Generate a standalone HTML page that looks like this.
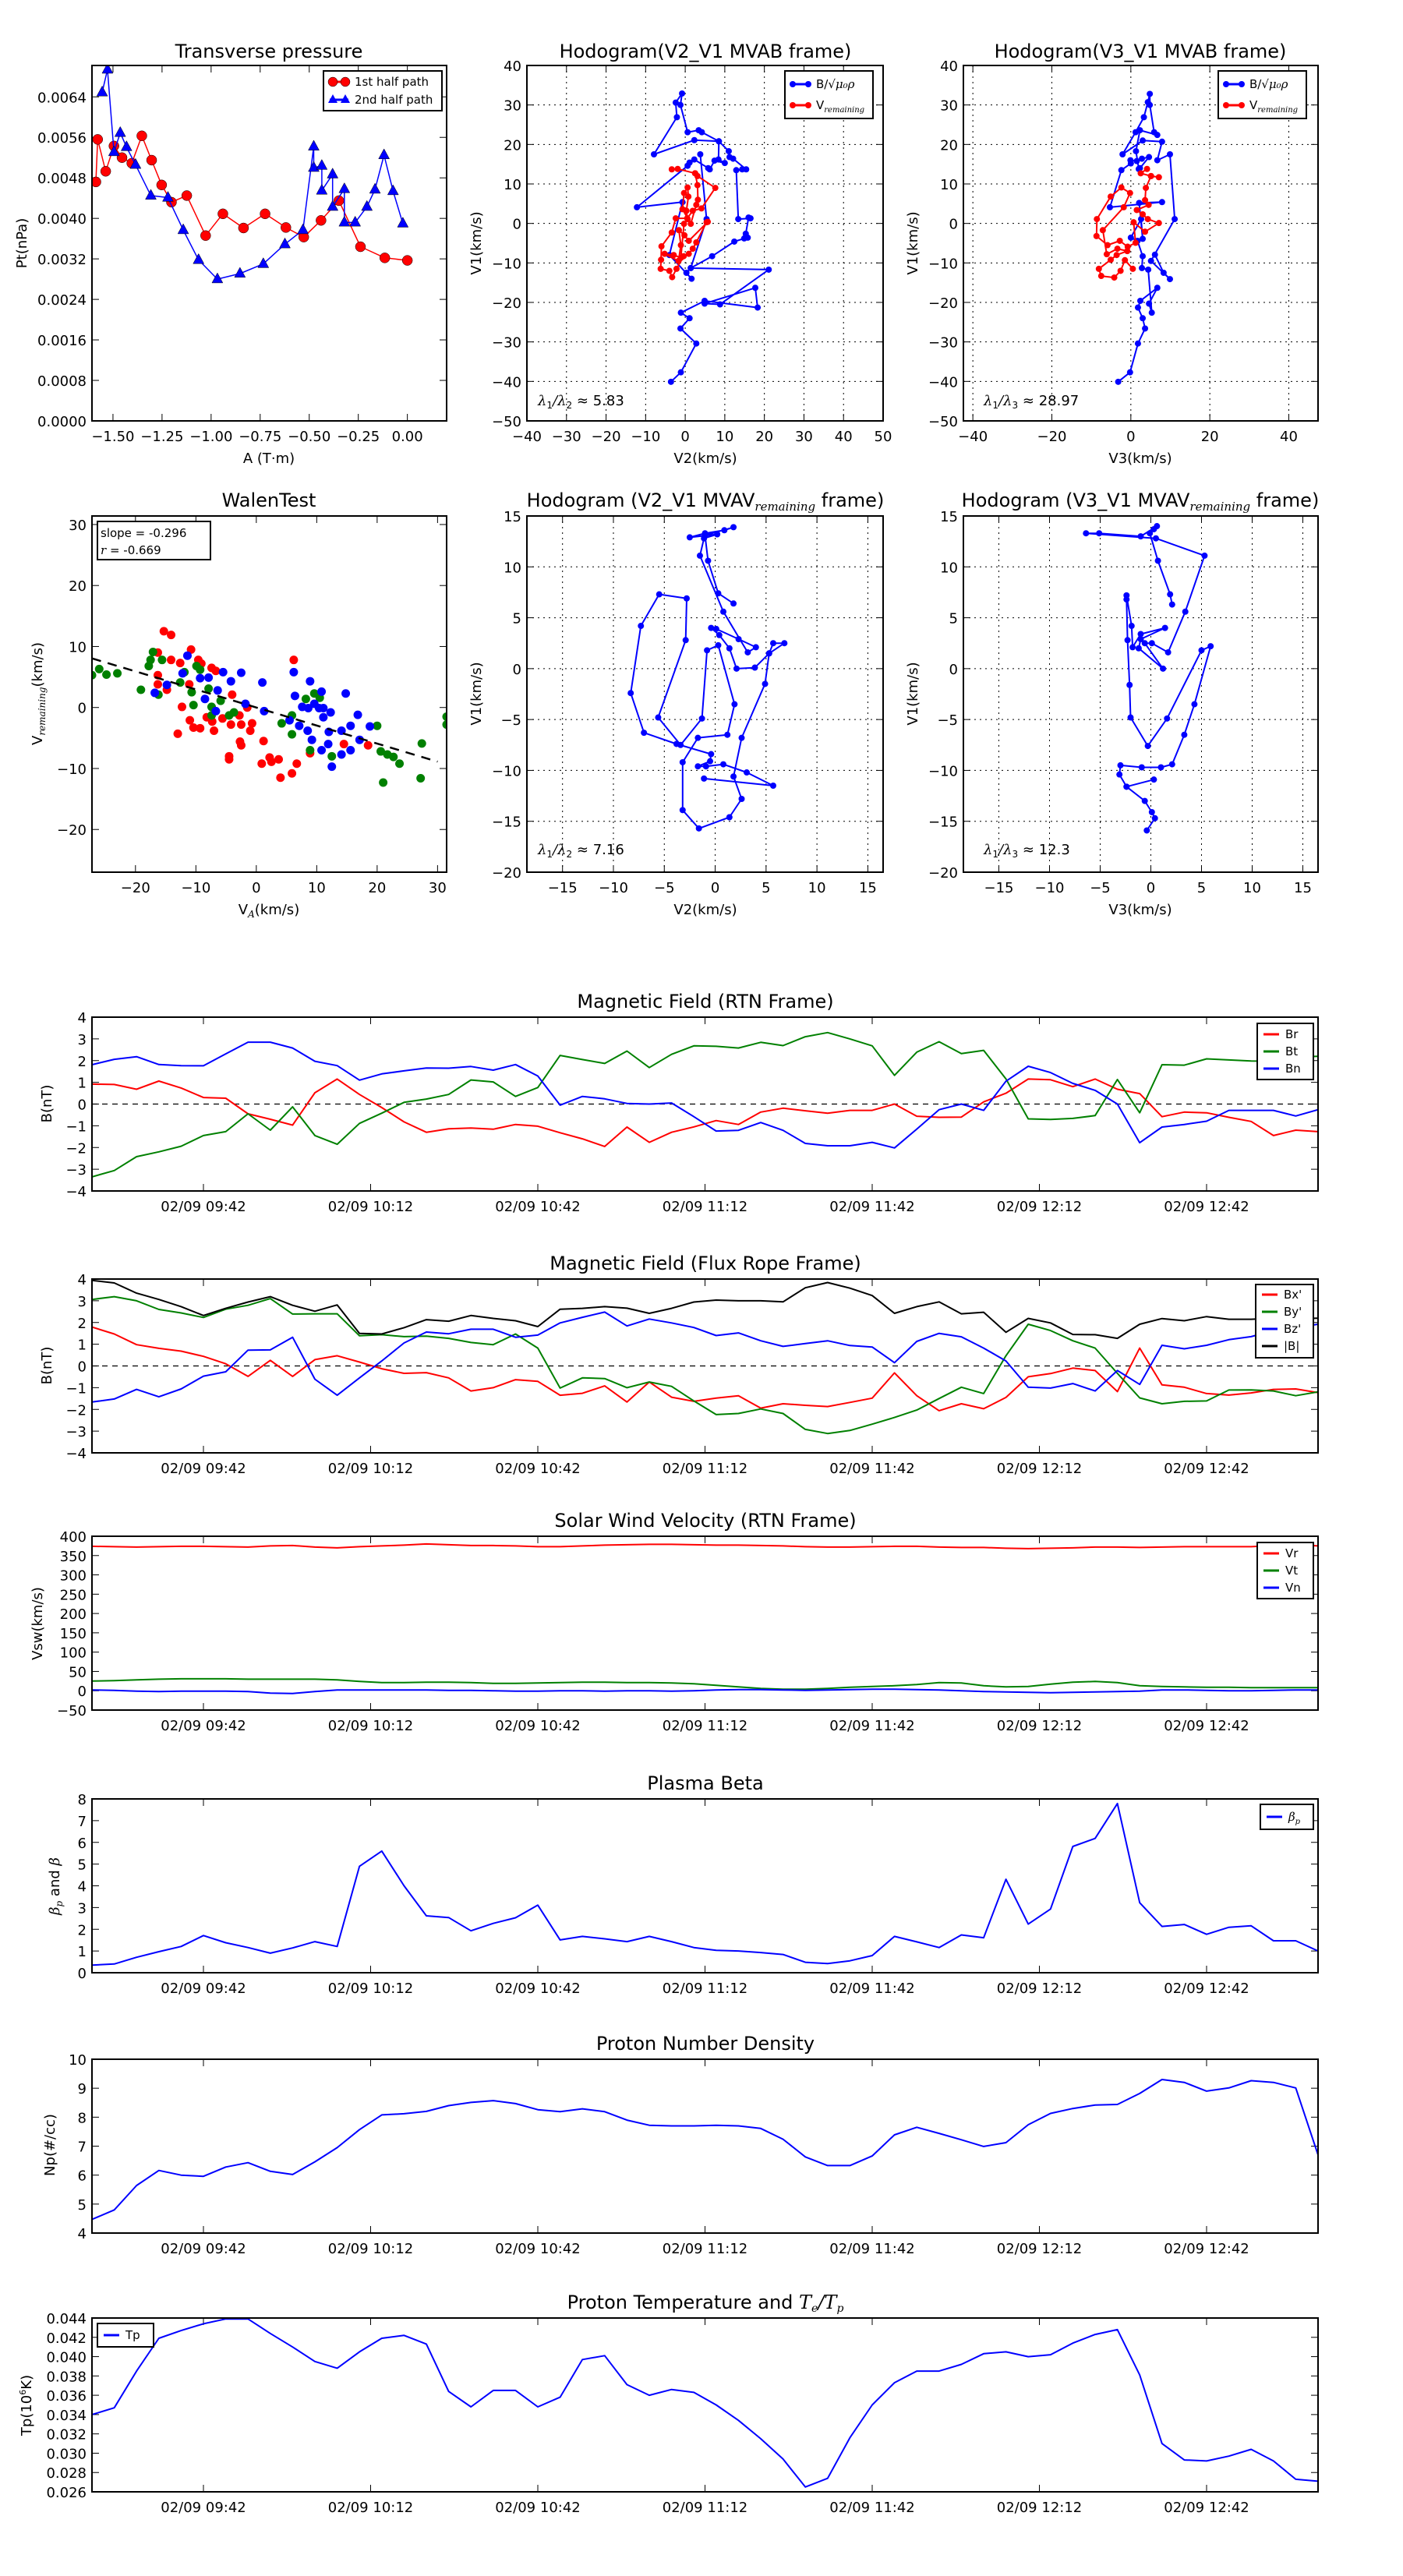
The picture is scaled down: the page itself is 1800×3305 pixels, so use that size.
<!DOCTYPE html>
<html><head><meta charset="utf-8">
<style>
body{margin:0;background:#fff}
svg text{font-family:"DejaVu Sans","Liberation Sans",sans-serif;fill:#000}
.t{font-size:24px}.lb{font-size:18px}.tk{font-size:18px}.lg{font-size:15px}
.m{font-family:"DejaVu Serif","Liberation Serif",serif;font-style:italic}
</style></head>
<body>
<svg id="fig" width="1800" height="3300" xmlns="http://www.w3.org/2000/svg">
<rect x="0" y="0" width="1800" height="3300" fill="#fff"/>
<!-- row 1 titles/labels -->
<text class="t" x="345" y="74" text-anchor="middle">Transverse pressure</text>
<text class="t" x="905" y="74" text-anchor="middle">Hodogram(V2_V1 MVAB frame)</text>
<text class="t" x="1463" y="74" text-anchor="middle">Hodogram(V3_V1 MVAB frame)</text>
<text class="lb" x="345" y="594" text-anchor="middle">A (T·m)</text>
<text class="lb" x="905" y="594" text-anchor="middle">V2(km/s)</text>
<text class="lb" x="1463" y="594" text-anchor="middle">V3(km/s)</text>
<text class="lb" transform="translate(34,312) rotate(-90)" text-anchor="middle">Pt(nPa)</text>
<text class="lb" transform="translate(617,312) rotate(-90)" text-anchor="middle">V1(km/s)</text>
<text class="lb" transform="translate(1177,312) rotate(-90)" text-anchor="middle">V1(km/s)</text>
<text class="lb" x="690" y="520"><tspan class="m">λ</tspan><tspan font-size="12" dy="4">1</tspan><tspan dy="-4" class="m">/λ</tspan><tspan font-size="12" dy="4">2</tspan><tspan dy="-4"> ≈ 5.83</tspan></text>
<text class="lb" x="1262" y="520"><tspan class="m">λ</tspan><tspan font-size="12" dy="4">1</tspan><tspan dy="-4" class="m">/λ</tspan><tspan font-size="12" dy="4">3</tspan><tspan dy="-4"> ≈ 28.97</tspan></text>
<!-- row 2 -->
<text class="t" x="345" y="650" text-anchor="middle">WalenTest</text>
<text class="t" x="905" y="650" text-anchor="middle">Hodogram (V2_V1 MVAV<tspan class="m" font-size="15" dy="5">remaining</tspan><tspan dy="-5"> frame)</tspan></text>
<text class="t" x="1463" y="650" text-anchor="middle">Hodogram (V3_V1 MVAV<tspan class="m" font-size="15" dy="5">remaining</tspan><tspan dy="-5"> frame)</tspan></text>
<text class="lb" x="345" y="1173" text-anchor="middle">V<tspan class="m" font-size="12" dy="4">A</tspan><tspan dy="-4">(km/s)</tspan></text>
<text class="lb" x="905" y="1173" text-anchor="middle">V2(km/s)</text>
<text class="lb" x="1463" y="1173" text-anchor="middle">V3(km/s)</text>
<text class="lb" transform="translate(54,890) rotate(-90)" text-anchor="middle">V<tspan class="m" font-size="12" dy="4">remaining</tspan><tspan dy="-4">(km/s)</tspan></text>
<text class="lb" transform="translate(617,890) rotate(-90)" text-anchor="middle">V1(km/s)</text>
<text class="lb" transform="translate(1177,890) rotate(-90)" text-anchor="middle">V1(km/s)</text>
<text class="lb" x="690" y="1096"><tspan class="m">λ</tspan><tspan font-size="12" dy="4">1</tspan><tspan dy="-4" class="m">/λ</tspan><tspan font-size="12" dy="4">2</tspan><tspan dy="-4"> ≈ 7.16</tspan></text>
<text class="lb" x="1262" y="1096"><tspan class="m">λ</tspan><tspan font-size="12" dy="4">1</tspan><tspan dy="-4" class="m">/λ</tspan><tspan font-size="12" dy="4">3</tspan><tspan dy="-4"> ≈ 12.3</tspan></text>
<!-- time series titles -->
<text class="t" x="905" y="1293" text-anchor="middle">Magnetic Field (RTN Frame)</text>
<text class="t" x="905" y="1629" text-anchor="middle">Magnetic Field (Flux Rope Frame)</text>
<text class="t" x="905" y="1959" text-anchor="middle">Solar Wind Velocity (RTN Frame)</text>
<text class="t" x="905" y="2296" text-anchor="middle">Plasma Beta</text>
<text class="t" x="905" y="2630" text-anchor="middle">Proton Number Density</text>
<text class="t" x="905" y="2962" text-anchor="middle">Proton Temperature and <tspan class="m">T</tspan><tspan class="m" font-size="14" dy="4">e</tspan><tspan class="m" dy="-4">/T</tspan><tspan class="m" font-size="14" dy="4">p</tspan></text>
<text class="lb" transform="translate(66,1416) rotate(-90)" text-anchor="middle">B(nT)</text>
<text class="lb" transform="translate(66,1752) rotate(-90)" text-anchor="middle">B(nT)</text>
<text class="lb" transform="translate(54,2083) rotate(-90)" text-anchor="middle">Vsw(km/s)</text>
<text class="lb" transform="translate(76,2420) rotate(-90)" text-anchor="middle"><tspan class="m">β</tspan><tspan class="m" font-size="12" dy="4">p</tspan><tspan dy="-4"> and </tspan><tspan class="m">β</tspan></text>
<text class="lb" transform="translate(70,2752) rotate(-90)" text-anchor="middle">Np(#/cc)</text>
<text class="lb" transform="translate(40,3086) rotate(-90)" text-anchor="middle">Tp(10<tspan font-size="11" dy="-7">6</tspan><tspan dy="7">K)</tspan></text>
</svg>
<script>
// ---------- Transverse pressure data ----------
const ptRedA = [-1.587,-1.578,-1.537,-1.495,-1.454,-1.404,-1.353,-1.303,-1.252,-1.202,-1.124,-1.028,-0.94,-0.835,-0.725,-0.619,-0.528,-0.44,-0.349,-0.239,-0.115,0];
const ptRedP = [0.00472,0.00556,0.00493,0.00543,0.0052,0.00509,0.00563,0.00515,0.00466,0.00432,0.00445,0.00366,0.00409,0.00381,0.00409,0.00382,0.00363,0.00396,0.00435,0.00344,0.00322,0.00317];
const ptBlueA = [-1.555,-1.528,-1.495,-1.463,-1.431,-1.385,-1.307,-1.22,-1.142,-1.064,-0.968,-0.853,-0.734,-0.624,-0.532,-0.477,-0.477,-0.436,-0.436,-0.381,-0.381,-0.321,-0.321,-0.266,-0.206,-0.165,-0.119,-0.073,-0.023];
const ptBlueP = [0.00649,0.00694,0.00531,0.00569,0.00541,0.00506,0.00445,0.00441,0.00377,0.00318,0.0028,0.00291,0.0031,0.00349,0.00377,0.00542,0.005,0.00504,0.00455,0.00487,0.00423,0.00458,0.00392,0.00392,0.00423,0.00457,0.00525,0.00454,0.0039];
// ---------- Hodogram MVAB (V2) ----------
const h1BlueX = [-3.6,-1.1,2.8,-1.2,1.1,-1.1,4.9,18.3,17.7,4.9,8.8,21.1,1.4,0.3,1.6,-4,-0.7,-12.2,0.6,1.1,2.3,5.8,6.2,7.4,10,8.4,8.5,4.2,3.4,0.6,-1.2,-0.8,-2.4,-2.1,-7.9,2.3,8.5,11,11.2,12.1,15.4,14.4,12.9,13.4,16.5,16,15.3,15.8,14.9,12.4,6.8,1.4,5.4,3.8];
const h1BlueY = [-40.1,-37.7,-30.4,-26.6,-24,-22.6,-19.6,-21.3,-16.3,-20.3,-20.5,-11.7,-11.3,-12.5,-14,-8,5.4,4.1,14.6,15.4,16.2,14,13.7,15.9,15.3,16.2,20.8,23.1,23.6,23.1,30,32.9,30.6,26.9,17.5,21.1,20.8,18.3,16.8,16.4,13.7,13.7,13.5,1.1,1.3,1.5,-2.6,-3.6,-3.8,-4.6,-8.3,-11.3,1.1,17.5];
const h1RedX = [-3.4,-1.9,2.5,3.1,7.6,4.1,1.9,0.5,-2.4,-3.4,-6,-6.1,-6.2,-4,-3.3,-2.2,-0.4,0.9,1.9,2.8,5.4,5.7,0.9,-0.2,-1.6,-1.1,-1.7,-5.2,-2.9,-1.1,-0.3,0.6,0.3,0.8,0.6,-0.3,-0.7,1.4,2.8,3.2,3.1,2.5];
const h1RedY = [13.7,13.8,12.7,12,9,3.8,3.2,1.3,1.3,-2.3,-5.8,-9.2,-11.5,-12,-13.6,-11.5,-8.3,-7.7,-6.4,-4.8,0.3,0.4,-4.4,-3,-1.7,-5.5,-9.5,-7.7,-8,-8.7,-0.1,1.1,3.2,6.8,9.1,7.7,3.6,-0.1,4.7,6,9.7,12.7];
// ---------- Hodogram MVAB (V3) ----------
const h2BlueX = [-3.2,-0.2,1.8,3.6,3,1.8,2.4,6.7,4.6,5.3,4.4,2.8,3,1.7,0,2.6,3,2.1,7.9,-5.3,-2.4,0,-0.1,1.5,2.8,4.6,2.3,2,1.3,2.3,6.7,5.9,4.8,4.8,4.3,3.3,1.2,-2.1,3,7.9,6.7,9.9,11.1,5.1,9.9,8.3,6.1];
const h2BlueY = [-40.1,-37.7,-30.4,-26.6,-24,-21.3,-19.6,-16.3,-20.3,-22.6,-11.7,-11.3,-8.3,-4.4,-3.6,1.1,-3.9,5.2,5.4,4.1,13.5,15.2,16,15.8,16.4,16.8,14,13.8,18.3,23.6,22.4,23.1,30,32.8,30.7,26.9,23.1,17.5,21,20.7,16,17.5,1.1,-9.5,-14.1,-12.5,-7.9];
const h2RedX = [4.1,2.5,5.1,7.1,5.1,3.8,3.6,4.5,1.5,3,4.3,7.1,3.6,0.7,1.2,-0.8,-2.8,-5.9,-8.7,-8.6,-5.1,-2.4,-0.2,-1.8,-7.1,-6.1,-3.4,-0.9,-3.6,-5.1,-8.1,-7.5,-4.2,-2.6,-1.5,0.5];
const h2RedY = [13.8,12.7,12,11.7,12,9,5.9,4.7,3.4,2.3,1.1,0.1,-2.1,0.3,-4.9,-5.9,-4.4,-5.5,-3.2,1.1,6.8,9.1,7.7,4.1,-1.7,-7.8,-6.4,-7,-8,-9.2,-11.5,-13.3,-13.7,-12,-9.3,-11.5];
// ---------- Walen test ----------
const walenRedX = [-15.3,-14.1,-16.3,-10.8,-14.1,-12.6,-9.6,-9.1,-7.4,-6.7,-16.3,-16.3,-14.8,-11.1,-4,-12.3,-1.5,-11,-10.4,-9.3,-8.2,-7.3,-7,-5.6,-4.2,-2.8,-2.5,-1,-0.7,-13,-2.7,-2.5,-4.5,-4.5,1.2,0.9,2.2,2.5,3.7,4,5.9,6.7,6.2,8.9,18.5,14.5];
const walenRedY = [12.5,11.9,9,9.5,7.8,7.3,7.8,7.2,6.5,6,5.3,3.8,2.9,3.8,2.1,0.1,0,-2.1,-3.3,-3.4,-1.6,-2.3,-3.8,-1.8,-2.8,-1.3,-2.8,-3.8,-2.6,-4.3,-5.6,-6.2,-8,-8.5,-5.5,-9.2,-8.2,-8.9,-8.5,-11.5,-10.8,-9.2,7.8,-7.5,-6.2,-6];
const walenGreenX = [-27.2,-26,-24.8,-23,-19.1,-17.8,-17.5,-17.1,-15.6,-16.2,-11.9,-12.6,-10.7,-10.4,-9.9,-9.3,-7.9,-7.4,-5.9,-7.4,-4.5,-3.7,4.2,5.9,5.9,8.2,9.6,10.5,8.9,12.5,20,20.6,21.7,22.7,23.7,21,27.2,27.4,31.5,31.5];
const walenGreenY = [5.3,6.3,5.4,5.6,2.9,6.8,7.8,9.1,7.8,2.1,5.8,4.1,2.5,0.4,6.8,6.2,3.1,0.1,1.1,-1.3,-1.3,-0.8,-2.6,-4.4,-1.3,1.4,2.3,1.6,-7,-8,-3,-7.2,-7.7,-8.1,-9.2,-12.3,-11.6,-5.9,-1.5,-2.8];
const walenBlueX = [-11.4,-12.2,-9.3,-7.9,-5.5,-2.5,-16.8,-14.8,-6.4,-8.5,-6.7,-4.2,-1.8,1,1.3,6.2,8.9,6.4,10.8,14.8,7.6,8.6,9.6,11.1,12.3,5.5,7.1,8.5,16.8,18.8,12,14.1,15.6,17.1,9.2,10.8,11.9,14.1,15.6,12.5,10.4,11.1];
const walenBlueY = [8.5,5.6,4.8,4.9,5.8,5.7,2.4,3.7,2.8,1.4,-0.6,4.3,0.6,4.1,-0.6,5.8,4.3,1.9,2.6,2.3,0.1,-0.1,0.6,-0.1,-0.8,-2.1,-3,-3.8,-1.2,-3.1,-4,-3.8,-3,-5.3,-5.3,-7,-6,-7.7,-7,-9.7,-0.1,-1.6];
const walenSlope = -0.296;
const walenIntercept = 0.0;
// ---------- Hodogram MVAV ----------
const h3X = [1.8,0.3,-0.7,-1,1.8,0.9,-1,-2.5,0.2,-1.1,-1.5,0.8,3.2,4,2.3,0.1,-0.4,0.4,1.4,2.1,3.9,5.3,6.8,5.7,5.3,4.9,2.6,1.8,2.6,1.4,-1.6,-3.2,-3.2,-1.7,1.2,1.9,0.3,-0.8,-1.3,-3.4,-5.6,-2.9,-2.8,-5.5,-7.3,-8.3,-7,-3.8,-0.4,-0.5,-1.7,-0.9,0.8,3.1,5.7,-1.1];
const h3Y = [6.4,7.4,10.6,13.1,13.9,13.6,13.3,12.9,13.2,12.8,11.1,5.6,1.6,2.1,2.9,3.9,4.0,3.3,2.0,0,0.1,1.5,2.5,2.5,1.5,-1.5,-6.8,-10.6,-12.8,-14.6,-15.7,-13.9,-9.2,-6.8,-6.5,-3.5,2.3,1.8,-4.9,-7.5,-4.8,2.8,6.9,7.3,4.2,-2.4,-6.3,-7.4,-8.4,-9.1,-9.6,-9.6,-9.4,-10.2,-11.5,-10.8];
const h4X = [2.1,1.9,0.7,-0.1,0.3,0.6,-1,-5.1,-6.4,0.5,5.3,3.4,1.7,0.1,-0.6,1.2,-1.2,-1,1.4,-1,-1.8,-1.9,-2.4,-2.4,-2.3,-2.1,-2,-0.3,1.6,5,5.9,4.3,3.3,2.1,1,-0.9,-3,-3.1,-2.4,0.3,-2.4,-0.6,0.1,0.4,-0.4];
const h4Y = [6.3,7.3,10.6,13.3,13.7,14,13,13.3,13.3,12.8,11.1,5.6,1.6,2.5,2.5,0,2,2.9,4,3.4,2.1,4.2,7.2,6.8,2.8,-1.6,-4.8,-7.6,-4.9,1.8,2.2,-3.5,-6.5,-9.4,-9.7,-9.7,-9.5,-10.4,-11.6,-10.9,-11.6,-13,-14.1,-14.7,-15.9];
// ---------- Time series (4-minute samples from 09:22) ----------
const timeTickIdx = [5,12.5,20,27.5,35,42.5,50];
const timeTickLabels = ["02/09 09:42","02/09 10:12","02/09 10:42","02/09 11:12","02/09 11:42","02/09 12:12","02/09 12:42"];
const Br = [0.92,0.9,0.68,1.06,0.74,0.3,0.27,-0.45,-0.7,-0.97,0.52,1.15,0.44,-0.16,-0.82,-1.3,-1.14,-1.1,-1.16,-0.94,-1.02,-1.32,-1.6,-1.95,-1.06,-1.76,-1.3,-1.05,-0.76,-0.94,-0.37,-0.19,-0.31,-0.42,-0.29,-0.29,0,-0.56,-0.61,-0.6,0.1,0.5,1.15,1.12,0.8,1.15,0.68,0.48,-0.58,-0.37,-0.4,-0.61,-0.8,-1.45,-1.2,-1.27];
const Bt = [-3.35,-3.06,-2.42,-2.2,-1.94,-1.45,-1.27,-0.45,-1.2,-0.13,-1.45,-1.85,-0.89,-0.42,0.08,0.23,0.44,1.11,1.02,0.35,0.76,2.24,2.05,1.87,2.44,1.68,2.29,2.68,2.66,2.58,2.84,2.69,3.1,3.29,3.0,2.68,1.32,2.39,2.87,2.32,2.47,1.16,-0.68,-0.71,-0.66,-0.53,1.13,-0.4,1.81,1.79,2.08,2.03,1.98,1.97,2.16,2.2];
const Bn = [1.81,2.06,2.18,1.82,1.77,1.76,2.31,2.85,2.85,2.58,1.97,1.77,1.1,1.39,1.53,1.66,1.65,1.73,1.56,1.82,1.29,-0.05,0.35,0.24,0.03,0,0.05,-0.58,-1.24,-1.21,-0.85,-1.21,-1.81,-1.92,-1.92,-1.76,-2.02,-1.15,-0.26,0,-0.29,1.05,1.74,1.45,0.95,0.63,0,-1.78,-1.06,-0.94,-0.79,-0.29,-0.29,-0.29,-0.55,-0.26];
const Bx = [1.79,1.47,0.98,0.81,0.68,0.44,0.1,-0.48,0.26,-0.48,0.29,0.47,0.18,-0.13,-0.34,-0.31,-0.55,-1.15,-1.0,-0.63,-0.71,-1.35,-1.26,-0.92,-1.66,-0.74,-1.44,-1.63,-1.48,-1.37,-1.94,-1.74,-1.81,-1.87,-1.68,-1.48,-0.32,-1.37,-2.06,-1.74,-1.97,-1.45,-0.5,-0.35,-0.1,-0.21,-1.18,0.82,-0.87,-0.98,-1.27,-1.34,-1.24,-1.08,-1.06,-1.23];
const By = [3.06,3.19,3.0,2.6,2.44,2.23,2.61,2.79,3.1,2.39,2.4,2.4,1.39,1.44,1.35,1.37,1.27,1.08,0.98,1.47,0.82,-1.02,-0.55,-0.58,-1.0,-0.74,-0.94,-1.61,-2.24,-2.19,-1.98,-2.19,-2.92,-3.11,-2.97,-2.68,-2.37,-2.03,-1.5,-0.98,-1.27,0.47,1.92,1.63,1.16,0.82,-0.34,-1.47,-1.74,-1.63,-1.61,-1.11,-1.1,-1.15,-1.37,-1.19];
const Bz = [-1.66,-1.52,-1.08,-1.42,-1.06,-0.47,-0.27,0.73,0.74,1.32,-0.61,-1.35,-0.55,0.23,1.06,1.56,1.48,1.69,1.69,1.32,1.42,1.98,2.24,2.48,1.84,2.16,1.98,1.77,1.4,1.52,1.16,0.9,1.03,1.16,0.94,0.87,0.15,1.13,1.5,1.34,0.82,0.23,-0.98,-1.02,-0.81,-1.15,-0.21,-0.85,0.95,0.79,0.95,1.21,1.35,1.63,1.76,1.92];
const Bmag = [3.94,3.82,3.35,3.06,2.73,2.32,2.65,2.94,3.19,2.79,2.52,2.81,1.5,1.47,1.76,2.13,2.06,2.32,2.19,2.08,1.81,2.61,2.65,2.73,2.66,2.42,2.65,2.94,3.03,3.0,3.0,2.95,3.6,3.84,3.58,3.24,2.42,2.73,2.95,2.4,2.47,1.55,2.19,1.98,1.45,1.44,1.27,1.92,2.18,2.08,2.27,2.15,2.15,2.2,2.18,2.2];
const Vr = [374,373,372,373,374,374,373,372,375,376,372,370,373,375,377,380,378,376,376,375,373,373,375,377,378,379,379,378,377,377,376,375,373,372,372,373,374,374,372,371,371,369,368,369,370,372,372,371,372,373,373,373,373,376,378,375];
const Vt = [25,26,28,30,31,31,31,30,30,30,30,28,24,21,21,22,22,21,19,19,20,21,22,22,21,21,20,18,14,10,6,4,4,6,9,11,13,16,21,20,13,10,11,17,22,24,21,13,11,10,9,9,8,8,8,8];
const Vn = [2,1,-1,-2,-1,-1,-1,-2,-6,-7,-2,2,2,2,2,2,1,1,0,-1,-1,0,0,-1,0,0,-1,0,2,3,3,2,1,2,3,4,4,3,2,0,-2,-3,-4,-5,-4,-3,-2,-1,2,2,1,0,0,1,2,2];
const betaP = [0.35,0.4,0.71,0.97,1.21,1.71,1.38,1.16,0.9,1.14,1.43,1.21,4.9,5.6,4.0,2.62,2.54,1.93,2.27,2.53,3.11,1.51,1.67,1.56,1.43,1.67,1.43,1.16,1.03,1.0,0.93,0.84,0.48,0.42,0.55,0.79,1.67,1.42,1.16,1.74,1.61,4.3,2.24,2.93,5.81,6.18,7.79,3.22,2.13,2.22,1.77,2.09,2.16,1.47,1.47,1.0];
const Np = [4.47,4.8,5.64,6.16,6.0,5.96,6.28,6.43,6.13,6.02,6.46,6.95,7.57,8.08,8.12,8.2,8.4,8.51,8.57,8.47,8.26,8.19,8.29,8.19,7.9,7.72,7.7,7.7,7.72,7.7,7.61,7.24,6.63,6.33,6.33,6.66,7.39,7.65,7.44,7.22,6.99,7.12,7.74,8.13,8.3,8.42,8.44,8.82,9.3,9.2,8.9,9.01,9.26,9.2,9.01,6.7];
const Tp = [0.034,0.0347,0.0385,0.0419,0.0427,0.0434,0.0439,0.0439,0.0424,0.041,0.0395,0.0388,0.0405,0.0419,0.0422,0.0413,0.0364,0.0348,0.0365,0.0365,0.0348,0.0358,0.0397,0.0401,0.0371,0.036,0.0366,0.0363,0.035,0.0334,0.0315,0.0294,0.0265,0.0274,0.0316,0.035,0.0373,0.0385,0.0385,0.0392,0.0403,0.0405,0.04,0.0402,0.0414,0.0423,0.0428,0.0381,0.031,0.0293,0.0292,0.0297,0.0304,0.0292,0.0273,0.0271];

const NS = 'http://www.w3.org/2000/svg';
const svg = document.getElementById('fig');
let clipN = 0;
function mk(tag, attrs, name, parent, txt) {
  const el = document.createElementNS(NS, tag);
  for (const k in attrs) el.setAttribute(k, attrs[k]);
  
  
  if (txt !== undefined) el.textContent = txt;
  parent.appendChild(el);
  return el;
}
function range(a, b, s) { const r = []; for (let v = a; v <= b + 1e-9; v += s) r.push(+v.toFixed(6)); return r; }
function fmtNum(v, d) { const s = Math.abs(v).toFixed(d); return (v < 0 ? '\u2212' : '') + s; }

function axes(o) {
  const g = mk('g', {}, o.name, svg);
  const sx = v => o.x + (v - o.xmin) / (o.xmax - o.xmin) * o.w;
  const sy = v => o.y + o.h - (v - o.ymin) / (o.ymax - o.ymin) * o.h;
  const id = 'clip' + (clipN++);
  const cp = mk('clipPath', {id: id}, o.name + '-clip', g);
  mk('rect', {x: o.x, y: o.y, width: o.w, height: o.h}, o.name + '-clip-rect', cp);
  o.xt.forEach((v, i) => {
    const X = sx(v);
    if (o.grid) mk('line', {x1: X, y1: o.y, x2: X, y2: o.y + o.h, stroke: '#000', 'stroke-width': 1, 'stroke-dasharray': '2,5'}, 'x-grid-line', g);
    mk('line', {x1: X, y1: o.y + o.h, x2: X, y2: o.y + o.h - 9, stroke: '#000', 'stroke-width': 1}, 'x-tick', g);
    mk('line', {x1: X, y1: o.y, x2: X, y2: o.y + 9, stroke: '#000', 'stroke-width': 1}, 'x-tick-top', g);
    mk('text', {x: X, y: o.y + o.h + 26, 'text-anchor': 'middle', class: 'tk'}, 'x-tick-label', g, o.xl[i]);
  });
  o.yt.forEach((v, i) => {
    const Y = sy(v);
    if (o.grid) mk('line', {x1: o.x, y1: Y, x2: o.x + o.w, y2: Y, stroke: '#000', 'stroke-width': 1, 'stroke-dasharray': '2,5'}, 'y-grid-line', g);
    mk('line', {x1: o.x, y1: Y, x2: o.x + 9, y2: Y, stroke: '#000', 'stroke-width': 1}, 'y-tick', g);
    mk('line', {x1: o.x + o.w, y1: Y, x2: o.x + o.w - 9, y2: Y, stroke: '#000', 'stroke-width': 1}, 'y-tick-right', g);
    mk('text', {x: o.x - 7, y: Y + 7, 'text-anchor': 'end', class: 'tk'}, 'y-tick-label', g, o.yl[i]);
  });
  const data = mk('g', {'clip-path': 'url(#' + id + ')'}, o.name + '-data', g);
  const frame = mk('rect', {x: o.x, y: o.y, width: o.w, height: o.h, fill: 'none', stroke: '#000', 'stroke-width': 2}, o.name + '-frame', g);
  return {sx, sy, g: data, outer: g};
}
function line(ax, xs, ys, color, name, w, dash) {
  const pts = xs.map((x, i) => ax.sx(x).toFixed(1) + ',' + ax.sy(ys[i]).toFixed(1)).join(' ');
  const a = {points: pts, fill: 'none', stroke: color, 'stroke-width': w || 2, 'stroke-linejoin': 'round'};
  if (dash) a['stroke-dasharray'] = dash;
  return mk('polyline', a, name, ax.g);
}
function dots(ax, xs, ys, color, name, r) {
  xs.forEach((x, i) => { mk('circle', {cx: ax.sx(x), cy: ax.sy(ys[i]), r: r, fill: color}, name, ax.g); });
}
function tris(ax, xs, ys, color, name, s) {
  xs.forEach((x, i) => {
    const X = ax.sx(x), Y = ax.sy(ys[i]);
    mk('polygon', {points: `${X},${Y - s} ${X - s * 0.87},${Y + s * 0.6} ${X + s * 0.87},${Y + s * 0.6}`, fill: color, stroke: '#000', 'stroke-width': 0.5}, name, ax.g);
  });
}
function legend(x, y, w, h, items, name) {
  const g = mk('g', {}, name, svg);
  mk('rect', {x: x, y: y, width: w, height: h, fill: '#fff', stroke: '#000', 'stroke-width': 2}, name + '-box', g);
  items.forEach((it, i) => {
    const Y = y + it.dy;
    mk('line', {x1: x + 8, y1: Y, x2: x + 8 + it.len, y2: Y, stroke: it.c, 'stroke-width': 3}, 'legend-swatch', g);
    if (it.mark === 'o') { mk('circle', {cx: x + 12, cy: Y, r: 6, fill: it.c, stroke: '#000', 'stroke-width': .5}, 'legend-marker', g); mk('circle', {cx: x + 4 + it.len, cy: Y, r: 6, fill: it.c, stroke: '#000', 'stroke-width': .5}, 'legend-marker', g); }
    if (it.mark === '^') { [x + 12, x + 4 + it.len].forEach(X => mk('polygon', {points: `${X},${Y - 7} ${X - 6},${Y + 4} ${X + 6},${Y + 4}`, fill: it.c}, 'legend-marker', g)); }
    if (it.mark === '.') { [x + 10, x + 6 + it.len].forEach(X => mk('circle', {cx: X, cy: Y, r: 4, fill: it.c}, 'legend-marker', g)); }
    const t = mk('text', {x: x + it.len + 16, y: Y + 5, class: 'lg'}, 'legend-label', g);
    t.innerHTML = it.t;
  });
}

// ---- Transverse pressure ----
const pA = axes({name: 'pressure-plot', x: 118, y: 84, w: 455, h: 456, xmin: -1.607, xmax: 0.2, ymin: 0, ymax: 0.00702,
  xt: range(-1.5, 0, 0.25), xl: range(-1.5, 0, 0.25).map(v => fmtNum(v, 2)),
  yt: range(0, 0.0064, 0.0008), yl: range(0, 0.0064, 0.0008).map(v => v.toFixed(4))});
line(pA, ptRedA, ptRedP, '#ff0000', 'first-half-path-line', 1.5);
dots(pA, ptRedA, ptRedP, '#ff0000', 'first-half-point', 6.5);
pA.g.querySelectorAll('circle').forEach(c => { c.setAttribute('stroke', '#000'); c.setAttribute('stroke-width', '0.5'); });
line(pA, ptBlueA, ptBlueP, '#0000ff', 'second-half-path-line', 1.5);
tris(pA, ptBlueA, ptBlueP, '#0000ff', 'second-half-point', 8);
legend(415, 91, 152, 51, [{dy: 14, len: 24, c: '#ff0000', mark: 'o', t: '1st half path'}, {dy: 37, len: 24, c: '#0000ff', mark: '^', t: '2nd half path'}], 'pressure-legend');

// ---- Hodogram MVAB V2 ----
const hA = axes({name: 'hodogram-v2-mvab', x: 676, y: 84, w: 457, h: 456, xmin: -40, xmax: 50, ymin: -50, ymax: 40, grid: true,
  xt: range(-40, 50, 10), xl: range(-40, 50, 10).map(v => fmtNum(v, 0)),
  yt: range(-50, 40, 10), yl: range(-50, 40, 10).map(v => fmtNum(v, 0))});
line(hA, h1BlueX, h1BlueY, '#0000ff', 'alfven-b-path', 2);
dots(hA, h1BlueX, h1BlueY, '#0000ff', 'alfven-b-point', 4);
line(hA, h1RedX, h1RedY, '#ff0000', 'v-remaining-path', 2);
dots(hA, h1RedX, h1RedY, '#ff0000', 'v-remaining-point', 4);
legend(1007, 91, 113, 61, [{dy: 17, len: 24, c: '#0000ff', mark: '.', t: 'B/√<tspan class="m">μ₀ρ</tspan>'}, {dy: 44, len: 24, c: '#ff0000', mark: '.', t: 'V<tspan class="m" font-size="10" dy="4">remaining</tspan>'}], 'hodogram-v2-legend');

// ---- Hodogram MVAB V3 ----
const hB = axes({name: 'hodogram-v3-mvab', x: 1236, y: 84, w: 455, h: 456, xmin: -42.4, xmax: 47.4, ymin: -50, ymax: 40, grid: true,
  xt: range(-40, 40, 20), xl: range(-40, 40, 20).map(v => fmtNum(v, 0)),
  yt: range(-50, 40, 10), yl: range(-50, 40, 10).map(v => fmtNum(v, 0))});
line(hB, h2BlueX, h2BlueY, '#0000ff', 'alfven-b-path', 2);
dots(hB, h2BlueX, h2BlueY, '#0000ff', 'alfven-b-point', 4);
line(hB, h2RedX, h2RedY, '#ff0000', 'v-remaining-path', 2);
dots(hB, h2RedX, h2RedY, '#ff0000', 'v-remaining-point', 4);
legend(1563, 91, 113, 61, [{dy: 17, len: 24, c: '#0000ff', mark: '.', t: 'B/√<tspan class="m">μ₀ρ</tspan>'}, {dy: 44, len: 24, c: '#ff0000', mark: '.', t: 'V<tspan class="m" font-size="10" dy="4">remaining</tspan>'}], 'hodogram-v3-legend');

// ---- Walen test ----
const wA = axes({name: 'walen-plot', x: 118, y: 662, w: 455, h: 457, xmin: -27.2, xmax: 31.5, ymin: -27, ymax: 31.4,
  xt: range(-20, 30, 10), xl: range(-20, 30, 10).map(v => fmtNum(v, 0)),
  yt: range(-20, 30, 10), yl: range(-20, 30, 10).map(v => fmtNum(v, 0))});
dots(wA, walenRedX, walenRedY, '#ff0000', 'walen-point-red', 5.5);
dots(wA, walenGreenX, walenGreenY, '#008000', 'walen-point-green', 5.5);
dots(wA, walenBlueX, walenBlueY, '#0000ff', 'walen-point-blue', 5.5);
const fitX = [-27.2, 30];
line(wA, fitX, fitX.map(x => walenSlope * x + walenIntercept), '#000', 'walen-fit-line', 2.5, '12,9');
(function () {
  const g = mk('g', {}, 'walen-stats-box', svg);
  mk('rect', {x: 125, y: 669, width: 145, height: 49, fill: '#fff', stroke: '#000', 'stroke-width': 2}, 'walen-stats-frame', g);
  mk('text', {x: 129, y: 689, class: 'lg', 'font-size': '17'}, 'walen-slope-text', g, 'slope = -0.296');
  const t = mk('text', {x: 129, y: 711, class: 'lg', 'font-size': '17'}, 'walen-r-text', g);
  t.innerHTML = '<tspan class="m">r</tspan> = -0.669';
})();

// ---- Hodogram MVAV ----
const hC = axes({name: 'hodogram-v2-mvav', x: 676, y: 662, w: 457, h: 457, xmin: -18.5, xmax: 16.5, ymin: -20, ymax: 15, grid: true,
  xt: range(-15, 15, 5), xl: range(-15, 15, 5).map(v => fmtNum(v, 0)),
  yt: range(-20, 15, 5), yl: range(-20, 15, 5).map(v => fmtNum(v, 0))});
line(hC, h3X, h3Y, '#0000ff', 'mvav-v2-path', 2);
dots(hC, h3X, h3Y, '#0000ff', 'mvav-v2-point', 4);
const hD = axes({name: 'hodogram-v3-mvav', x: 1236, y: 662, w: 455, h: 457, xmin: -18.5, xmax: 16.5, ymin: -20, ymax: 15, grid: true,
  xt: range(-15, 15, 5), xl: range(-15, 15, 5).map(v => fmtNum(v, 0)),
  yt: range(-20, 15, 5), yl: range(-20, 15, 5).map(v => fmtNum(v, 0))});
line(hD, h4X, h4Y, '#0000ff', 'mvav-v3-path', 2);
dots(hD, h4X, h4Y, '#0000ff', 'mvav-v3-point', 4);

// ---- Time series panels ----
const idx = Br.map((_, i) => i);
function tsPanel(name, top, ymin, ymax, step, dec) {
  const yt = range(ymin, ymax, step);
  return axes({name: name, x: 118, y: top, w: 1573, h: 223, xmin: 0, xmax: 55, ymin: ymin, ymax: ymax,
    xt: timeTickIdx, xl: timeTickLabels, yt: yt, yl: yt.map(v => fmtNum(v, dec))});
}
function zeroLine(ax, name) { line(ax, [0, 55], [0, 0], '#000', name, 1.2, '7,6'); }
const t1 = tsPanel('b-rtn-panel', 1305, -4, 4, 1, 0);
zeroLine(t1, 'b-rtn-zero-line');
line(t1, idx, Br, '#ff0000', 'br-line');
line(t1, idx, Bt, '#008000', 'bt-line');
line(t1, idx, Bn, '#0000ff', 'bn-line');
legend(1613, 1313, 72, 72, [{dy: 14, len: 20, c: '#ff0000', t: 'Br'}, {dy: 36, len: 20, c: '#008000', t: 'Bt'}, {dy: 58, len: 20, c: '#0000ff', t: 'Bn'}], 'b-rtn-legend');

const t2 = tsPanel('b-fluxrope-panel', 1641, -4, 4, 1, 0);
zeroLine(t2, 'b-fluxrope-zero-line');
line(t2, idx, Bx, '#ff0000', 'bx-line');
line(t2, idx, By, '#008000', 'by-line');
line(t2, idx, Bz, '#0000ff', 'bz-line');
line(t2, idx, Bmag, '#000000', 'bmag-line');
legend(1611, 1648, 74, 94, [{dy: 13, len: 20, c: '#ff0000', t: "Bx'"}, {dy: 35, len: 20, c: '#008000', t: "By'"}, {dy: 57, len: 20, c: '#0000ff', t: "Bz'"}, {dy: 79, len: 20, c: '#000', t: '|B|'}], 'b-fluxrope-legend');

const t3 = tsPanel('velocity-panel', 1971, -50, 400, 50, 0);
line(t3, idx, Vr, '#ff0000', 'vr-line');
line(t3, idx, Vt, '#008000', 'vt-line');
line(t3, idx, Vn, '#0000ff', 'vn-line');
legend(1613, 1979, 72, 72, [{dy: 14, len: 20, c: '#ff0000', t: 'Vr'}, {dy: 36, len: 20, c: '#008000', t: 'Vt'}, {dy: 58, len: 20, c: '#0000ff', t: 'Vn'}], 'velocity-legend');

const t4 = tsPanel('beta-panel', 2308, 0, 8, 1, 0);
line(t4, idx, betaP, '#0000ff', 'beta-p-line');
legend(1617, 2315, 68, 32, [{dy: 16, len: 20, c: '#0000ff', t: '<tspan class="m">β</tspan><tspan class="m" font-size="10" dy="4">p</tspan>'}], 'beta-legend');

const t5 = tsPanel('density-panel', 2642, 4, 10, 1, 0);
line(t5, idx, Np, '#0000ff', 'np-line');

const t6 = tsPanel('temperature-panel', 2974, 0.026, 0.044, 0.002, 3);
line(t6, idx, Tp, '#0000ff', 'tp-line');
legend(125, 2981, 72, 30, [{dy: 15, len: 20, c: '#0000ff', t: 'Tp'}], 'temperature-legend');
</script>
</body></html>
